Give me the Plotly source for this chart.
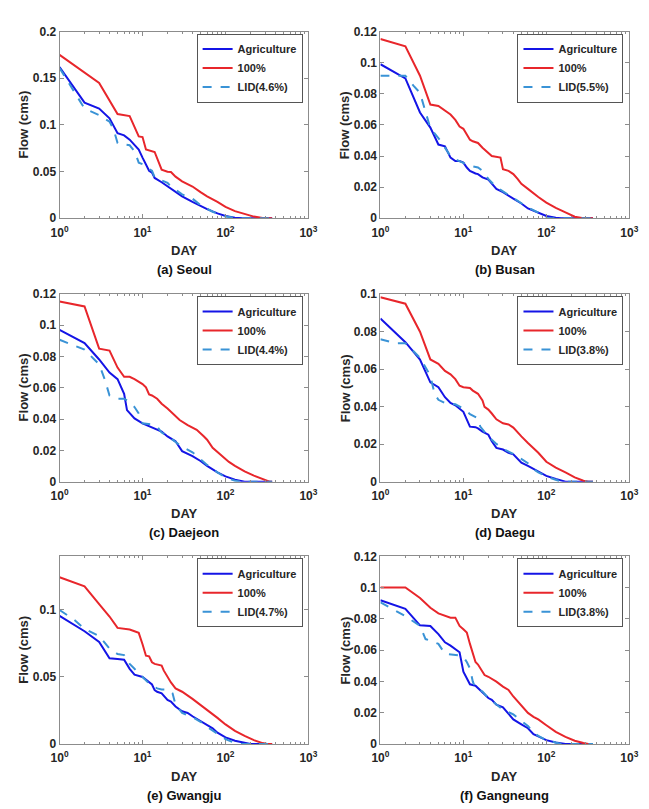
import plotly.graph_objects as go

W, H = 649, 809

# ---------------- data (day rank, flow in cms) ----------------
# (a) Seoul
a_agri_day = [1, 2, 3, 4, 5, 6, 7, 8, 9, 10, 12, 13, 14, 17, 20, 25, 30, 40, 50, 60, 80, 100, 130, 160, 365]
a_agri_flow = [0.162, 0.1239, 0.1175, 0.107, 0.0912, 0.0888, 0.0842, 0.079, 0.0737, 0.065, 0.0509, 0.049, 0.0432,
               0.0386, 0.034, 0.028, 0.0235, 0.0175, 0.013, 0.0098, 0.0053, 0.0025, 0.0007, 0, 0]
a_full_day = [1, 3, 5, 7, 9, 10, 11, 13, 14, 17, 20, 22, 25, 30, 40, 50, 60, 80, 100, 130, 170, 220, 280, 330, 365]
a_full_flow = [0.175, 0.145, 0.1116, 0.1095, 0.0877, 0.087, 0.0737, 0.072, 0.071, 0.052, 0.0498, 0.0495, 0.0446,
               0.0396, 0.034, 0.028, 0.0235, 0.0175, 0.0123, 0.0077, 0.0046, 0.0018, 0.0004, 0, 0]
a_lid_day = [1, 1.5, 2, 3, 4, 4.5, 5, 6, 7, 8, 9, 10, 11, 12, 13, 14, 17, 20, 22, 30, 40, 45, 50, 70, 100, 130, 150, 365]
a_lid_flow = [0.161, 0.136, 0.1175, 0.1105, 0.1035, 0.0947, 0.0807, 0.079, 0.0782, 0.072, 0.0596, 0.058, 0.0544,
              0.0526, 0.0509, 0.044, 0.0404, 0.0379, 0.034, 0.0256, 0.021, 0.0175, 0.014, 0.007, 0.0018, 0.0005, 0, 0]

# (b) Busan
b_agri_day = [1, 2, 3, 4, 5, 6, 7, 8, 9, 10, 11, 12, 14, 15, 17, 20, 25, 30, 40, 50, 60, 80, 100, 130, 150, 365]
b_agri_flow = [0.099, 0.0899, 0.068, 0.0583, 0.0474, 0.0463, 0.039, 0.0368, 0.0368, 0.0358, 0.0326, 0.0305, 0.0288,
               0.0284, 0.0263, 0.0248, 0.0189, 0.0168, 0.0126, 0.0095, 0.0063, 0.0036, 0.0015, 0.0004, 0, 0]
b_full_day = [1, 2, 3, 4, 5, 6, 7, 8, 9, 10, 12, 13, 15, 17, 20, 22, 28, 30, 35, 40, 45, 50, 60, 70, 80, 100, 130,
              170, 220, 280, 365]
b_full_flow = [0.1152, 0.1105, 0.0916, 0.0731, 0.0722, 0.0695, 0.0667, 0.0632, 0.059, 0.0575, 0.0505, 0.0495, 0.0484,
               0.0453, 0.0421, 0.04, 0.039, 0.0316, 0.0305, 0.0284, 0.0253, 0.0221, 0.0189, 0.0158, 0.0137, 0.0101,
               0.0067, 0.0038, 0.001, 0, 0]
b_lid_day = [1, 2, 2.5, 3, 3.5, 4, 5, 6, 7, 8, 10, 12, 15, 17, 20, 25, 30, 40, 50, 60, 80, 90, 100, 365]
b_lid_flow = [0.0916, 0.0916, 0.0853, 0.0806, 0.0684, 0.0579, 0.0516, 0.0453, 0.04, 0.0379, 0.0358, 0.0337, 0.0326,
              0.0305, 0.0253, 0.02, 0.0173, 0.013, 0.0099, 0.007, 0.0036, 0.001, 0, 0]

# (c) Daejeon
c_agri_day = [1, 2, 3, 4, 5, 6, 6.5, 7, 8, 10, 12, 15, 17, 20, 25, 30, 40, 50, 60, 80, 100, 130, 170, 365]
c_agri_flow = [0.097, 0.0886, 0.0781, 0.0697, 0.0655, 0.0561, 0.0457, 0.0436, 0.0404, 0.0373, 0.0356, 0.0331, 0.032,
               0.0289, 0.0258, 0.0195, 0.0163, 0.0132, 0.0101, 0.0059, 0.0034, 0.0013, 0, 0]
c_full_day = [1, 2, 3, 4, 5, 6, 7, 8, 10, 11, 12, 13, 15, 17, 20, 22, 25, 28, 35, 45, 55, 60, 70, 90, 110, 130, 170,
              220, 280, 340, 365]
c_full_flow = [0.1152, 0.112, 0.085, 0.0838, 0.0729, 0.067, 0.067, 0.0655, 0.0624, 0.0603, 0.0557, 0.0551, 0.053,
               0.0498, 0.0467, 0.0446, 0.0415, 0.0394, 0.0362, 0.0331, 0.0289, 0.0268, 0.0216, 0.0163, 0.0126, 0.0101,
               0.0065, 0.0038, 0.0017, 0, 0]
c_lid_day = [1, 2, 3, 3.5, 4, 5, 6, 7, 8, 9, 10, 13, 15, 17, 20, 25, 30, 40, 50, 60, 80, 100, 130, 150, 365]
c_lid_flow = [0.0907, 0.0844, 0.075, 0.0655, 0.0551, 0.053, 0.053, 0.0509, 0.0477, 0.0436, 0.0373, 0.0366, 0.0352,
              0.0314, 0.0293, 0.0251, 0.0222, 0.0188, 0.0142, 0.0107, 0.0059, 0.0027, 0.0006, 0, 0]

# (d) Daegu
d_agri_day = [1, 2, 3, 4, 5, 6, 7, 8, 10, 11, 12, 14, 15, 17, 20, 22, 25, 30, 35, 40, 50, 60, 80, 100, 130, 170, 365]
d_agri_flow = [0.0869, 0.0743, 0.065, 0.0529, 0.0503, 0.045, 0.0419, 0.0407, 0.0372, 0.0328, 0.0293, 0.029, 0.0284,
               0.0267, 0.025, 0.0215, 0.018, 0.0171, 0.0154, 0.0145, 0.0101, 0.0084, 0.0052, 0.0031, 0.0014, 0, 0]
d_full_day = [1, 2, 3, 4, 5, 6, 7, 8, 9, 10, 12, 13, 15, 17, 18, 20, 22, 25, 30, 35, 40, 45, 50, 60, 70, 80, 100,
              130, 170, 220, 280, 320, 365]
d_full_flow = [0.0982, 0.0948, 0.0799, 0.0651, 0.0628, 0.059, 0.0572, 0.0546, 0.0511, 0.0503, 0.0499, 0.0485, 0.0468,
               0.0433, 0.0398, 0.0384, 0.0363, 0.0332, 0.0311, 0.0305, 0.0288, 0.0262, 0.0241, 0.0206, 0.018, 0.0154,
               0.0106, 0.0075, 0.0049, 0.0023, 0.0005, 0, 0]
d_lid_day = [1, 1.5, 2, 3, 4, 4.5, 5, 6, 8, 10, 12, 15, 16, 20, 25, 30, 40, 50, 60, 70, 80, 100, 130, 150, 365]
d_lid_flow = [0.0759, 0.0738, 0.0738, 0.066, 0.0564, 0.0468, 0.0436, 0.0419, 0.0412, 0.0389, 0.036, 0.0337, 0.0293,
              0.0241, 0.0201, 0.0175, 0.0148, 0.0122, 0.0098, 0.0066, 0.0049, 0.0028, 0.001, 0, 0]

# (e) Gwangju
e_agri_day = [1, 2, 3, 4, 5, 6, 7, 8, 10, 12, 13, 14, 15, 17, 20, 22, 25, 30, 35, 40, 50, 60, 70, 80, 100, 130, 170,
              200, 365]
e_agri_flow = [0.0956, 0.0841, 0.0761, 0.0639, 0.0634, 0.0629, 0.0561, 0.0517, 0.05, 0.0463, 0.0444, 0.0402, 0.039,
               0.0378, 0.0329, 0.0317, 0.028, 0.0244, 0.0232, 0.0207, 0.0171, 0.0146, 0.0117, 0.0085, 0.0049, 0.0024,
               0.0007, 0, 0]
e_full_day = [1, 2, 3, 4, 5, 6, 7, 8, 9, 10, 11, 12, 13, 14, 17, 18, 20, 22, 25, 30, 40, 50, 60, 70, 80, 100, 130,
              170, 220, 280, 320, 365]
e_full_flow = [0.1244, 0.1176, 0.1044, 0.0951, 0.0866, 0.0861, 0.0854, 0.0841, 0.0829, 0.0744, 0.0659, 0.0654, 0.061,
               0.0598, 0.0585, 0.0549, 0.05, 0.0459, 0.0415, 0.039, 0.0337, 0.0293, 0.0256, 0.022, 0.0195, 0.0146,
               0.0098, 0.0061, 0.0029, 0.0007, 0, 0]
e_lid_day = [1, 1.5, 2, 3, 4, 5, 6, 7, 8, 10, 12, 15, 17, 20, 23, 25, 30, 40, 50, 60, 80, 100, 130, 150, 365]
e_lid_flow = [0.1, 0.0927, 0.0859, 0.0805, 0.0712, 0.0671, 0.0663, 0.0598, 0.0561, 0.05, 0.0451, 0.0415, 0.0407,
              0.0407, 0.0378, 0.0293, 0.0232, 0.02, 0.0166, 0.0127, 0.0078, 0.0037, 0.0007, 0, 0]

# (f) Gangneung
f_agri_day = [1, 2, 3, 4, 5, 6, 7, 8, 9, 10, 11, 12, 14, 15, 17, 20, 22, 25, 30, 35, 40, 50, 60, 70, 80, 100, 130,
              170, 365]
f_agri_flow = [0.0919, 0.0864, 0.0759, 0.0755, 0.0703, 0.065, 0.0629, 0.0604, 0.0587, 0.0462, 0.042, 0.0382, 0.0373,
               0.0357, 0.0325, 0.0294, 0.0283, 0.0252, 0.0235, 0.0189, 0.0157, 0.0126, 0.0101, 0.0063, 0.0048, 0.0025,
               0.001, 0, 0]
f_full_day = [1, 2, 3, 4, 5, 6, 7, 8, 9, 10, 11, 12, 13, 14, 15, 17, 18, 20, 25, 30, 35, 40, 45, 50, 60, 70, 80, 100,
              130, 170, 220, 280, 320, 365]
f_full_flow = [0.1001, 0.1001, 0.0934, 0.0871, 0.0835, 0.0822, 0.0808, 0.0808, 0.0755, 0.0734, 0.0713, 0.064, 0.0577,
               0.0524, 0.0508, 0.0462, 0.0441, 0.043, 0.0399, 0.0367, 0.0346, 0.0304, 0.0273, 0.0241, 0.0199, 0.0174,
               0.0157, 0.012, 0.0078, 0.0046, 0.0021, 0.0006, 0, 0]
f_lid_day = [1, 2, 3, 3.5, 4, 5, 6, 7, 8, 9, 10, 11, 12, 13, 14, 17, 20, 25, 30, 40, 50, 60, 70, 80, 100, 130, 150, 365]
f_lid_flow = [0.0906, 0.0818, 0.0755, 0.0671, 0.0661, 0.064, 0.0577, 0.0571, 0.0566, 0.0566, 0.0556, 0.0524, 0.0483,
              0.0399, 0.0357, 0.0336, 0.0294, 0.0252, 0.022, 0.0189, 0.0151, 0.0115, 0.0073, 0.0052, 0.0025, 0.0006, 0, 0]

captions = ["(a) Seoul", "(b) Busan", "(c) Daejeon", "(d) Daegu", "(e) Gwangju", "(f) Gangneung"]
lid_labels = ["LID(4.6%)", "LID(5.5%)", "LID(4.4%)", "LID(3.8%)", "LID(4.7%)", "LID(3.8%)"]
y_max = [0.2, 0.12, 0.12, 0.1, 0.14, 0.12]
y_step = [0.05, 0.02, 0.02, 0.02, 0.05, 0.02]
x_tick_vals = [1, 10, 100, 1000]
x_tick_text = ["10<sup>0</sup>", "10<sup>1</sup>", "10<sup>2</sup>", "10<sup>3</sup>"]
x_minor_vals = [m * 10 ** k for k in range(3) for m in range(2, 10)]

series = [
    (a_agri_day, a_agri_flow, a_full_day, a_full_flow, a_lid_day, a_lid_flow),
    (b_agri_day, b_agri_flow, b_full_day, b_full_flow, b_lid_day, b_lid_flow),
    (c_agri_day, c_agri_flow, c_full_day, c_full_flow, c_lid_day, c_lid_flow),
    (d_agri_day, d_agri_flow, d_full_day, d_full_flow, d_lid_day, d_lid_flow),
    (e_agri_day, e_agri_flow, e_full_day, e_full_flow, e_lid_day, e_lid_flow),
    (f_agri_day, f_agri_flow, f_full_day, f_full_flow, f_lid_day, f_lid_flow),
]

# ---------------- layout geometry (pixels) ----------------
cols_px = [(52, 308), (382, 638)]
rows_px = [(25, 215), (292, 483), (559, 750)]
day_y_px = [248, 515, 783]
cap_y_px = [267, 535, 802]
ylab_x_px = [15, 346]

FONT = "Liberation Sans, Arial, Helvetica, sans-serif"
TXT = "#262626"
AX = "#8c8c8c"
BLUE = "#1414e6"
RED = "#e8262b"
LIDC = "#3a93d6"

fig = go.Figure()
layout = dict(width=W, height=H, margin=dict(l=0, r=0, t=0, b=0),
              paper_bgcolor="white", plot_bgcolor="white", showlegend=True,
              font=dict(family=FONT, color=TXT))
annotations = []

for i in range(6):
    r, c = divmod(i, 2)
    x0, x1 = cols_px[c]
    top, bot = rows_px[r]
    sfx = "" if i == 0 else str(i + 1)
    xa, ya = "x" + sfx, "y" + sfx
    lg = "legend" + sfx
    ad, af, fd, ff, ld, lf = series[i]
    fig.add_trace(go.Scatter(x=ad, y=af, mode="lines", name="Agriculture", xaxis=xa, yaxis=ya, legend=lg,
                             line=dict(color=BLUE, width=2)))
    fig.add_trace(go.Scatter(x=fd, y=ff, mode="lines", name="100%", xaxis=xa, yaxis=ya, legend=lg,
                             line=dict(color=RED, width=2)))
    fig.add_trace(go.Scatter(x=ld, y=lf, mode="lines", name=lid_labels[i], xaxis=xa, yaxis=ya, legend=lg,
                             line=dict(color=LIDC, width=2, dash="dash")))

    layout["xaxis" + sfx] = dict(
        type="log", range=[0, 3], domain=[x0 / W, x1 / W], anchor=ya,
        tickmode="array", tickvals=x_tick_vals, ticktext=x_tick_text,
        ticks="inside", ticklen=4, tickcolor=AX, showline=True, linecolor=AX, linewidth=1,
        mirror="ticks", showgrid=False, zeroline=False, ticklabelstandoff=3,
        tickfont=dict(family=FONT, size=12, color=TXT, weight="bold"),
        minor=dict(tickmode="array", tickvals=x_minor_vals, ticks="inside", ticklen=2,
                   tickcolor=AX, showgrid=False),
    )
    layout["yaxis" + sfx] = dict(
        range=[0, y_max[i]], domain=[1 - bot / H, 1 - top / H], anchor=xa,
        tick0=0, dtick=y_step[i],
        ticks="inside", ticklen=4, tickcolor=AX, showline=True, linecolor=AX, linewidth=1,
        mirror="ticks", showgrid=False, zeroline=False,
        tickfont=dict(family=FONT, size=12, color=TXT, weight="bold"),
    )
    layout[lg] = dict(
        x=(x1 - 6) / W, xanchor="right", y=1 - (top + 2) / H, yanchor="top",
        bgcolor="white", bordercolor="#555555", borderwidth=1,
        font=dict(family=FONT, size=11, color=TXT, weight="bold"),
        tracegroupgap=0, itemwidth=30,
    )
    cx = (x0 + x1) / 2 / W
    annotations.append(dict(text="DAY", x=cx, y=1 - day_y_px[r] / H, xref="paper", yref="paper",
                            showarrow=False, xanchor="center", yanchor="middle",
                            font=dict(family=FONT, size=13, color=TXT, weight="bold")))
    annotations.append(dict(text=captions[i], x=cx, y=1 - cap_y_px[r] / H, xref="paper", yref="paper",
                            showarrow=False, xanchor="center", yanchor="middle",
                            font=dict(family=FONT, size=13, color="#111111", weight="bold")))
    annotations.append(dict(text="Flow (cms)", x=ylab_x_px[c] / W, y=1 - (top + bot) / 2 / H,
                            xref="paper", yref="paper", textangle=-90,
                            showarrow=False, xanchor="center", yanchor="middle",
                            font=dict(family=FONT, size=13, color=TXT, weight="bold")))

layout["annotations"] = annotations
fig.update_layout(**layout)
fig.write_html("out.html")
